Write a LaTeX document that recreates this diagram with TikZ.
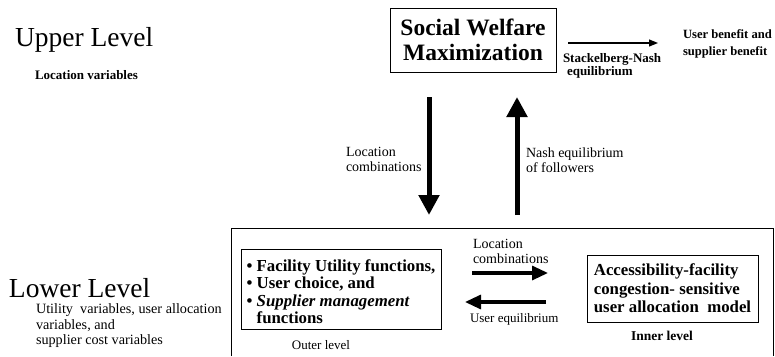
\documentclass[tikz,border=0pt]{standalone}
\usepackage{fontspec}
\setmainfont{Liberation Serif}[
  BoldFont={Liberation Serif Bold},
  ItalicFont={Liberation Serif Italic},
  BoldItalicFont={Liberation Serif Bold Italic}]
\usetikzlibrary{arrows.meta}
\begin{document}
\begin{tikzpicture}[x=1pt,y=-1pt,
  every node/.style={inner sep=0pt, outer sep=0pt},
  frame/.style={draw, line width=1pt},
  bigarrow/.style={line width=5pt, -{Triangle[width=20pt,length=20pt]}},
  midarrow/.style={line width=3.2pt, -{Triangle[width=14pt,length=16pt]}},
  thinarrow/.style={line width=1.1pt, -{Triangle[width=7pt,length=9pt]}},
  levelfont/.style={font=\fontsize{27.5}{30}\selectfont},
  notefont/.style={font=\fontsize{14.2}{15.5}\selectfont},
  labelfont/.style={font=\fontsize{14}{15}\selectfont},
  boldlabel/.style={font=\fontsize{13}{17}\selectfont\bfseries}
]
\fill[white] (0,0) rectangle (775,356);
\useasboundingbox (0,0) rectangle (775,356);

% ---------- upper level ----------
\node[levelfont, anchor=base west] (upper) at (15,46) {Upper Level};
\node[boldlabel, anchor=base west] (uppervars) at (35,79) {Location variables};

\node[frame, minimum width=166pt, minimum height=64pt, align=center,
      font=\fontsize{23.5}{25}\selectfont\bfseries] (swm) at (473,40)
  {Social Welfare\\Maximization};

\coordinate (snA) at (568,43);
\coordinate (snB) at (658,43);
\draw[thinarrow] (snA) -- (snB);
\node[boldlabel, anchor=base west] (sn1) at (563,62) {Stackelberg-Nash};
\node[boldlabel, anchor=base west] (sn2) at (567,75) {equilibrium};

\node[font=\fontsize{12.6}{17}\selectfont\bfseries, align=left, anchor=north west]
  (benefit) at (683,29.5) {User benefit and\\supplier benefit};

% ---------- links between the levels ----------
\coordinate (downA) at (429,97);
\coordinate (downB) at (429,215);
\coordinate (upA) at (517,215);
\coordinate (upB) at (517,97);
\draw[bigarrow] (downA) -- (downB);
\draw[bigarrow] (upA) -- (upB);

\node[labelfont, align=left, anchor=north west] (loccomb) at (346,147.5)
  {Location\\combinations};
\node[labelfont, align=left, anchor=north west] (nasheq) at (526,147.5)
  {Nash equilibrium\\of followers};

% ---------- lower level ----------
\draw[line width=1pt] (231,356) -- (231,228) -- (773,228) -- (773,356);

\node[levelfont, anchor=base west] (lower) at (9,297) {Lower Level};
\node[notefont, align=left, anchor=north west] (lowervars) at (36,304)
  {Utility\ \ variables, user allocation\\variables, and\\supplier cost variables};

\node[frame, minimum width=200pt, minimum height=80pt, align=left,
      font=\fontsize{16.8}{17.5}\selectfont\bfseries] (outerbox) at (341,289)
  {\rule{0pt}{17pt}\textbullet\ Facility Utility functions,\\
   \textbullet\ User choice, and\\
   \textbullet\ \textit{Supplier management}\\
   \phantom{\textbullet\ }functions};
\node[font=\fontsize{13}{15}\selectfont, anchor=base] (outerlbl) at (321,349) {Outer level};

\node[frame, minimum width=171pt, minimum height=67pt, align=left,
      font=\fontsize{16.8}{18.5}\selectfont\bfseries] (innerbox) at (672.5,288.5)
  {Accessibility-facility\\congestion- sensitive\\user allocation\ \ model};
\node[font=\fontsize{13.5}{15}\selectfont\bfseries, anchor=base] (innerlbl) at (662,340) {Inner level};

\coordinate (rA) at (472,273);
\coordinate (rB) at (548,273);
\coordinate (lA) at (546,302);
\coordinate (lB) at (465,302);
\draw[midarrow] (rA) -- (rB);
\draw[midarrow] (lA) -- (lB);
\node[labelfont, align=left, anchor=north west] (midloc) at (473,239.5)
  {Location\\combinations};
\node[font=\fontsize{13}{15}\selectfont, anchor=base west] (usereq) at (470,322) {User equilibrium};

\end{tikzpicture}
\end{document}
